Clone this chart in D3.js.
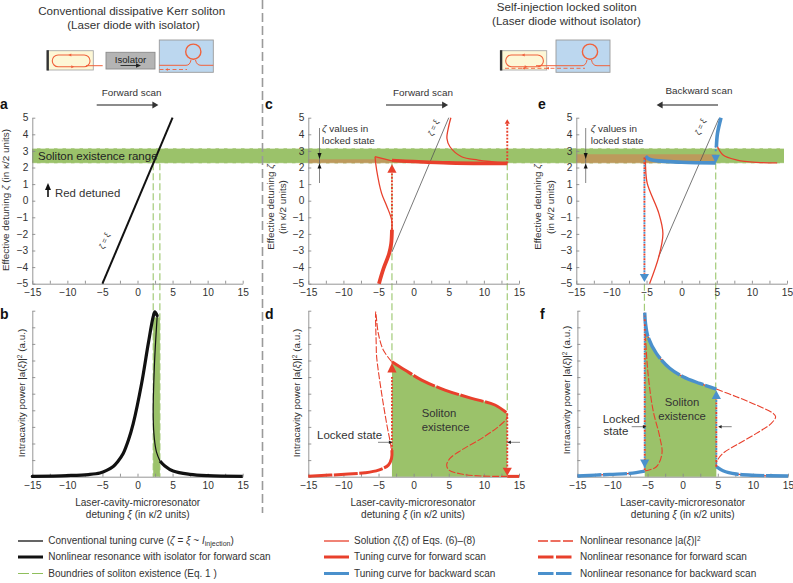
<!DOCTYPE html>
<html><head><meta charset="utf-8">
<script src="https://cdn.jsdelivr.net/npm/d3@7/dist/d3.min.js"></script>
<style>
html,body{margin:0;padding:0;background:#fff}
svg{display:block}
text{font-family:"Liberation Sans",Arial,sans-serif;fill:#333}
.i{font-style:italic}
</style></head><body>
<svg id="c" width="793" height="583"></svg>
<script>
// ---------- data ----------
const xTicks = d3.range(-15, 15.1, 2.5);
const zetaTicks = d3.range(-5, 5.1, 1);
const powerTicks = d3.range(0, 10.1, 1);
const solitonBand = [2.25, 3.16];

const aTuning = [[-5, -5], [5, 5]];
const aBounds = [2.24, 3.19];
const bRise = [[-15,0.02],[-10,0.07],[-7,0.13],[-5.36,0.22],[-4.4,0.38],[-3.46,0.62],[-2.8,0.92],[-2.04,1.4],[-1.3,2.2],[-0.61,3.2],[0.58,5.6],[1.53,8],[2.24,9.64],[2.48,9.93],[2.81,9.7]];
const bUnstable = [[2.81,9.7],[2.4,6.6],[2.24,3.6],[2.4,2.3],[2.7,1.5],[3.2,0.95]];
const bFall = [[3.2,0.95],[3.9,0.65],[5.08,0.34],[7.46,0.14],[10,0.06],[15,0.02]];

const cBounds = [-3.09, 13.33];
const cThickLow = [[-4.94,-5],[-4.3,-4.1],[-3.5,-3.2],[-3.2,-2.6],[-3.09,-1.75]];
const cThinLow = [[-3.09,-1.75],[-3.13,-1.16],[-3.85,-0.3],[-4.56,0.44],[-5.27,1.85],[-5.5,2.65]];
const cRidge = [[-5.5,2.65],[-3.09,2.4]];
const cThickTop = [[-3.09,2.42],[0,2.36],[5,2.28],[10,2.25],[13.33,2.25]];
const cThinUp = [[13.33,2.27],[9.2,2.45],[6.83,2.65],[5.17,3.25],[4.74,3.75],[5.0,4.5],[5.3,5]];
const cRef = [[-3.1,-3.1],[5,5]];
const cBrown = [[-15,2.49],[-5.5,2.49],[-5.5,2.65],[-3.09,2.4],[-3.09,2.25],[-15,2.25]];

const dLowThick = [[-15,0.03],[-9.3,0.16],[-6.9,0.24],[-5,0.4],[-3.6,0.7],[-3.15,1.1],[-3.09,1.6]];
const dBack = [[-3.13,6.93],[-4.32,7.63],[-5.03,8.63],[-5.41,9.94],[-5.33,8],[-5.27,7.23],[-4.56,5.02],[-3.85,3.21],[-3.23,1.81],[-3.09,1.0]];
const dUpper = [[-3.09,6.93],[-1.24,6.43],[1.14,5.82],[4.46,5.22],[8.26,4.72],[11.58,4.32],[13.33,3.82]];
const dS = [[13.33,3.82],[13.24,3.51],[12.05,3.01],[9.68,2.31],[6.83,1.61],[5.17,1.1],[4.7,0.7],[5.03,0.4],[6.83,0.16],[9.68,0.04],[13.33,0.02]];
const dEnd = [[13.33,0.02],[15,0.02]];

const eBounds = [-5.3, 4.85];
const eThinLow = [[-4.57,-5],[-3.25,-3.37],[-2.67,-1.97],[-3.25,-0.76],[-4.9,1.04],[-5.14,2.05],[-5.14,2.65]];
const eThickTop = [[-5.14,2.68],[-4.5,2.48],[0,2.32],[4.85,2.28]];
const eThickUp = [[5.6,5],[5.1,4.05],[4.95,3.25]];
const eThinUp = [[4.95,3.4],[5.9,2.75],[7.9,2.45],[10.7,2.31],[13.6,2.28]];
const eRef = [[-3.3,-3.4],[5.3,4.95]];
const eBrown = [[-15,2.8],[4.9,2.8],[4.9,2.25],[-15,2.25]];

const fUpper = [[-5.41,9.88],[-5.3,9.24],[-4.94,8.43],[-3.75,7.43],[-1.85,6.53],[0.05,6.02],[2.42,5.62],[4.79,5.28]];
const fOuter = [[4.79,5.28],[7.64,4.82],[10.49,4.32],[12.86,3.82],[13.24,3.61],[12.62,3.21],[10.49,2.61],[7.64,1.91],[5.74,1.41],[4.84,0.9],[4.79,0.6]];
const fRightLow = [[4.79,0.6],[5.74,0.36],[7.64,0.16],[10.49,0.08],[15,0.04]];
const fLeftLow = [[-15,0.04],[-10.4,0.14],[-7.55,0.2],[-5.41,0.34]];
const fInner = [[-5.41,0.34],[-3.75,0.6],[-2.95,1.41],[-3.28,2.41],[-4.23,4.02],[-4.94,6.22],[-5.32,8.63],[-5.41,9.88]];

const legendRows = [544, 560, 576.5];
const legendCol1 = ['Conventional tuning curve (<tspan class="i">ζ</tspan> = <tspan class="i">ξ</tspan> ~ <tspan class="i">I</tspan><tspan font-size="7" dy="2">injection</tspan><tspan dy="-2">)</tspan>','Nonlinear resonance with isolator for forward scan','Boundries of soliton existence (Eq. 1 )'];
const legendCol2 = ['Solution <tspan class="i">ζ</tspan>(<tspan class="i">ξ</tspan>) of Eqs. (6)–(8)','Tuning curve for forward scan','Tuning curve for backward scan'];
const legendCol3 = ['Nonlinear resonance |a(<tspan class="i">ξ</tspan>)|<tspan font-size="6.5" dy="-3">2</tspan>','Nonlinear resonance for forward scan','Nonlinear resonance for backward scan'];

// ---------- colours ----------
const RED='#e8402c', BLUE='#4a90cc', GREEN='#9bc26a', DGREEN='#a3cb78', BROWN='#bc9a5c', INK='#333', AX='#8a8a8a';

const svg = d3.select('#c');
const yZ = d3.scaleLinear().domain([-5,5]).range([283.7,117.7]);
const yP = d3.scaleLinear().domain([0,10]).range([476.7,310.7]);
const xA = d3.scaleLinear().domain([-15,15]).range([32.3,242.7]);
const xC = d3.scaleLinear().domain([-15,15]).range([308.3,519]);
const xE = d3.scaleLinear().domain([-15,15]).range([576.3,787]);
const xF = d3.scaleLinear().domain([-15,15]).range([577.4,788]);

const T = (x,y,s,o={}) => {
  const t = svg.append('text').attr('x',x).attr('y',y).attr('font-size',o.size||9.9)
    .attr('text-anchor',o.anchor||'start').html(s);
  if(o.rot!==undefined) t.attr('transform',`rotate(${o.rot} ${x} ${y})`);
  if(o.weight) t.attr('font-weight',o.weight);
  if(o.fill) t.style('fill',o.fill);
  return t;
};
const path = (d,color,w,o={}) => {
  const p = svg.append('path').attr('d',d).attr('fill',o.fill||'none').attr('stroke',color).attr('stroke-width',w);
  if(o.dash) p.attr('stroke-dasharray',o.dash);
  if(o.cap) p.attr('stroke-linecap',o.cap);
  return p;
};
const gen = (x,y) => d3.line().x(d=>x(d[0])).y(d=>y(d[1])).curve(d3.curveCatmullRom.alpha(0.5));
const lin = (x,y) => d3.line().x(d=>x(d[0])).y(d=>y(d[1]));
const tri = (cx,tip,up,hw,h,color) => svg.append('path').attr('fill',color)
   .attr('d',`M${cx},${tip}L${cx-hw},${up?tip+h:tip-h}L${cx+hw},${up?tip+h:tip-h}Z`);
const arrowH = (x1,x2,y,color,w,hl,hw) => {
  path(`M${x1},${y}L${x2},${y}`,color,w);
  const s=x2>x1?1:-1;
  svg.append('path').attr('fill',color==='#666'?'#333':'#222')
    .attr('d',`M${x2+s*hl*0.4},${y}L${x2-s*hl*0.6},${y-hw}L${x2-s*hl*0.6},${y+hw}Z`);
};

function axes(x,y,labels,yT){
  const xg = svg.append('g').attr('transform',`translate(0,${y.range()[0]})`)
    .call(d3.axisBottom(x).tickValues(xTicks).tickSizeInner(-3).tickSizeOuter(0).tickPadding(5)
      .tickFormat(v=> v%5===0 ? d3.format('d')(v) : ''));
  const yg = svg.append('g').attr('transform',`translate(${x.range()[0]},0)`)
    .call(d3.axisLeft(y).tickValues(yT).tickSizeInner(-3).tickSizeOuter(0).tickPadding(4)
      .tickFormat(labels? d3.format('d') : ''));
  [xg,yg].forEach(g=>{
    g.selectAll('path').attr('stroke',AX).attr('stroke-width',0.9);
    g.selectAll('line').attr('stroke',AX).attr('stroke-width',0.9);
    g.selectAll('text').attr('font-size',10.2).style('fill',INK).attr('font-family','"Liberation Sans",Arial,sans-serif');
  });
}

// ---------- backgrounds ----------
const vDash=(px,y1,y2)=>path(`M${px},${y1}V${y2}`,DGREEN,1.2,{dash:'7,3'});
aBounds.forEach(v=>{ vDash(xA(v),yZ(2.25),yP(0)); });

svg.append('rect').attr('x',32).attr('width',752).attr('y',yZ(solitonBand[1])).attr('height',yZ(solitonBand[0])-yZ(solitonBand[1])).attr('fill',GREEN);
svg.append('path').attr('fill',BROWN).attr('d',lin(xC,yZ)(cBrown)+'Z');
svg.append('path').attr('fill',BROWN).attr('d',lin(xE,yZ)(eBrown)+'Z');
solitonBand.forEach(v=>path(`M32,${yZ(v)}H784`,'#fff',0.7,{dash:'5,3.5'}));

// green fills in lower row
svg.append('rect').attr('x',xA(aBounds[0])).attr('width',xA(aBounds[1])-xA(aBounds[0])).attr('y',yP(9.6)).attr('height',yP(0)-yP(9.6)).attr('fill',GREEN);
const areaOf = (x,pts)=>d3.area().x(d=>x(d[0])).y0(yP(0)).y1(d=>yP(d[1])).curve(d3.curveCatmullRom.alpha(0.5))(pts);
svg.append('path').attr('fill',GREEN).attr('d',areaOf(xC,dUpper));
svg.append('path').attr('fill',GREEN).attr('d',areaOf(xF,fUpper));

// divider
path('M262.5,0V513','#9a9a9a',1.6,{dash:'9,4'});

// dashed boundaries
cBounds.forEach((v,i)=>{ vDash(xC(v),yZ(2.25),i?yP(3.8):yP(6.9)); });
vDash(xE(eBounds[0]),yZ(-5),yP(9.9));
vDash(xE(eBounds[1]),yZ(2.3),yP(5.3));

// axes
axes(xA,yZ,true,zetaTicks);  axes(xA,yP,false,powerTicks);
axes(xC,yZ,true,zetaTicks);  axes(xC,yP,false,powerTicks);
axes(xE,yZ,true,zetaTicks);  axes(xF,yP,false,powerTicks);

// ---------- panel a ----------
path(lin(xA,yZ)(aTuning),'#111',2);
// ---------- panel b ----------
path(gen(xA,yP)(bUnstable),'#111',1.2);
path(gen(xA,yP)(bRise),'#111',3.2,{cap:'round'});
path(gen(xA,yP)(bFall),'#111',3.2);

// ---------- panel c ----------
const DOT='1.9,1.5', DOT2='1.9,2.9';
path(lin(xC,yZ)(cRef),'#555',0.8);
path(gen(xC,yZ)(cThinLow),RED,1.3);
path(lin(xC,yZ)(cRidge),RED,1.3);
path(gen(xC,yZ)(cThinUp),RED,1.3);
path(gen(xC,yZ)(cThickLow),RED,3.8);
path(gen(xC,yZ)(cThickTop),RED,3.6);
path(`M${xC(cBounds[0])},${yZ(-1.75)}V${yZ(1.7)}`,RED,1.9,{dash:DOT});
tri(xC(cBounds[0]),yZ(2.2),true,4.6,8.5,RED);
path(`M${xC(cBounds[1])},${yZ(2.25)}V${yZ(4.7)}`,RED,1.9,{dash:DOT});
tri(xC(cBounds[1]),yZ(4.9),true,2.6,4.5,RED);

// ---------- panel d ----------
path(gen(xC,yP)(dBack),RED,1.1,{dash:'7,1.8'});
path(gen(xC,yP)(dS),RED,1.1,{dash:'7,1.8'});
path(gen(xC,yP)(dLowThick),RED,3,{dash:'24,1.5'});
path(gen(xC,yP)(dUpper),RED,3,{dash:'24,1.5'});
path(lin(xC,yP)(dEnd),RED,3);
path(`M${xC(cBounds[0])},${yP(1.6)}V${yP(6)}`,RED,1.9,{dash:DOT});
tri(xC(cBounds[0]),yP(6.85),true,4.6,9.5,RED);
path(`M${xC(cBounds[1])},${yP(3.8)}V${yP(0.5)}`,RED,1.9,{dash:DOT});
tri(xC(cBounds[1]),yP(0.05),false,4.6,8,RED);

// ---------- panel e ----------
path(lin(xE,yZ)(eRef),'#555',0.8);
path(gen(xE,yZ)(eThinLow),RED,1.3);
path(gen(xE,yZ)(eThinUp),RED,1.3);
path(gen(xE,yZ)(eThickTop),BLUE,3.6);
path(gen(xE,yZ)(eThickUp),BLUE,3.6);
path(`M${xE(eBounds[0])},${yZ(2.6)}V${yZ(-4.4)}`,RED,1.9,{dash:DOT2});
path(`M${xE(eBounds[0])},${yZ(2.6)}V${yZ(-4.4)}`,BLUE,1.9,{dash:DOT2}).attr('stroke-dashoffset',2.4);
tri(xE(eBounds[0]),yZ(-4.9),false,4.6,8,BLUE);
path(`M${xE(eBounds[1])},${yZ(3.3)}V${yZ(2.9)}`,BLUE,1.9,{dash:DOT});
tri(xE(eBounds[1]),yZ(2.25),false,4.2,8.5,BLUE);

// ---------- panel f ----------
path(gen(xF,yP)(fOuter),RED,1.1,{dash:'7,1.8'});
path(gen(xF,yP)(fInner),RED,1.1,{dash:'7,1.8'});
[fLeftLow,fUpper,fRightLow].forEach(p=>{
  path(gen(xF,yP)(p),RED,1.2);
  path(gen(xF,yP)(p),BLUE,3.4,{dash:'24,1.6'});
});
[fUpper[0][0],fUpper[fUpper.length-1][0]].forEach((v,i)=>{
  const a=i?yP(0.6):yP(0.4), b=i?yP(4.8):yP(9.7);
  path(`M${xF(v)},${a}V${b}`,RED,1.9,{dash:DOT2});
  path(`M${xF(v)},${a}V${b}`,BLUE,1.9,{dash:DOT2}).attr('stroke-dashoffset',2.4);
});
tri(xF(fUpper[0][0]),yP(0.52),false,4.6,8.5,BLUE);
tri(xF(fUpper[fUpper.length-1][0]),yP(5.2),true,4.6,8.5,BLUE);

// ---------- text ----------
T(131.7,15,'Conventional dissipative Kerr soliton',{anchor:'middle',size:11.6});
T(133.5,29,'(Laser diode with isolator)',{anchor:'middle',size:11.6});
T(566.7,11,'Self-injection locked soliton',{anchor:'middle',size:11.6});
T(566.5,25,'(Laser diode without isolator)',{anchor:'middle',size:11.6});

[['a',0,109],['c',265,109],['e',538,109],['b',0,319],['d',265,319],['f',540,319]]
  .forEach(d=>T(d[1],d[2],d[0],{size:14,weight:'bold',fill:'#111'}));

T(131.7,96,'Forward scan',{anchor:'middle',size:9.9});
arrowH(96.7,156,105,'#666',1.3,6,3.6);
T(423,96,'Forward scan',{anchor:'middle',size:9.9});
arrowH(386,445.7,105,'#666',1.3,6,3.6);
T(699,94,'Backward scan',{anchor:'middle',size:9.9});
arrowH(718,659,105,'#666',1.3,6,3.6);

T(38,160,'Soliton existence range',{size:11.5,fill:'#222'});
T(55,196.5,'Red detuned',{size:11.4});
path('M48,197V188','#111',1.6);
svg.append('path').attr('fill','#111').attr('d','M48,183L45,190L51,190Z');

const lockNote=(xl,xt)=>{
  T(xt,132,'<tspan class="i">ζ</tspan> values in',{size:9.9});
  T(xt,144,'locked state',{size:9.9});
  path(`M${xl},128V183`,'#666',0.8);
  svg.append('path').attr('fill','#111').attr('d',`M${xl},159L${xl-2},153L${xl+2},153Z`);
  svg.append('path').attr('fill','#111').attr('d',`M${xl},163.5L${xl-2},168.5L${xl+2},168.5Z`);
};
lockNote(319.5,322); lockNote(585.7,590.7);

const rotT=(x,y,s,size)=>T(x,y,s,{rot:-90,anchor:'middle',size:size||9.9});
const EFF='Effective detuning <tspan class="i">ζ</tspan>';
const UN='(in κ/2 units)';
rotT(9,200,EFF+' '+UN);
rotT(273.5,207,EFF); rotT(285.5,207,UN);
rotT(541,207,EFF); rotT(553.5,207,UN);
const POW='Intracavity power |a(<tspan class="i">ξ</tspan>)|<tspan font-size="6.5" dy="-3">2</tspan><tspan dy="3"> (a.u.)</tspan>';
rotT(25,393,POW); rotT(300,393,POW); rotT(570,390,POW);

[[137.7],[413],[682.7]].forEach(c=>{
  T(c[0],506,'Laser-cavity-microresonator',{anchor:'middle',size:10.1});
  T(c[0],518,'detuning <tspan class="i">ξ</tspan> (in κ/2 units)',{anchor:'middle',size:10.1});
});

const rotEq=(px,py)=>T(px,py,'<tspan class="i">ζ</tspan> = <tspan class="i">ξ</tspan>',{rot:-67,anchor:'middle',size:8});
rotEq(107,242); rotEq(436,129); rotEq(703,128);

T(421.7,416.7,'Soliton',{size:11.3}); T(421.7,430.7,'existence',{size:11.3});
T(682,405.7,'Soliton',{size:11.3,anchor:'middle'}); T(682,420,'existence',{size:11.3,anchor:'middle'});
T(317,439.3,'Locked state',{size:11.5});
T(602.7,423,'Locked',{size:11.5}); T(603.5,435,'state',{size:11.5});
arrowH(378,391,442.3,'#777',0.9,3.5,1.8); arrowH(520,508.8,442.3,'#777',0.9,3.5,1.8);
arrowH(631.7,645,426.7,'#777',0.9,3.5,1.8); arrowH(731.7,719.5,426.7,'#777',0.9,3.5,1.8);

// ---------- legend ----------
const swatch=(x1,x2,y,c,w,dash)=>path(`M${x1},${y}H${x2}`,c,w,dash?{dash}:{});
swatch(18,43,legendRows[0]-3,'#111',1.3);
swatch(18,43,legendRows[1]-3,'#111',3);
swatch(18,43,legendRows[2]-3,'#8fbf5c',1.1,'11,3');
legendCol1.forEach((s,i)=>T(48.3,legendRows[i],s,{size:10}));
swatch(324,349,legendRows[0]-3,RED,1.3);
swatch(324,349,legendRows[1]-3,RED,3);
swatch(324,349,legendRows[2]-3,BLUE,3);
legendCol2.forEach((s,i)=>T(354,legendRows[i],s,{size:10}));
swatch(538,573,legendRows[0]-3,RED,1.3,'10,2.5');
swatch(538,573,legendRows[1]-3,RED,3,'15.5,2.5');
swatch(538,573,legendRows[2]-3,BLUE,3,'15.5,2.5');
legendCol3.forEach((s,i)=>T(580,legendRows[i],s,{size:10}));

// ---------- schematics ----------
const SR='#f0623c';
const box=(x,y,w,h,f,s)=>svg.append('rect').attr('x',x).attr('y',y).attr('width',w).attr('height',h).attr('fill',f).attr('stroke',s).attr('stroke-width',0.9);
function laser(x0){
  box(x0,50.7,46,19.3,'#fdf7d6','#a8a8a8');
  svg.append('rect').attr('x',x0-0.8).attr('y',50.2).attr('width',2.4).attr('height',20.3).attr('fill','#333');
  svg.append('rect').attr('x',x0+5).attr('y',55).attr('width',37.7).attr('height',11.7).attr('rx',5.8).attr('fill','none').attr('stroke',SR).attr('stroke-width',1.1);
  svg.append('path').attr('fill',SR).attr('d',`M${x0+24},53.5l-3,1.5l3,1.5ZM${x0+24},65.2l3,1.5l-3,1.5Z`);
}
function resonator(x0,x1,cx){
  box(x0,40,x1-x0,32.3,'#bcd7ef','#9a9a9a');
  svg.append('circle').attr('cx',cx).attr('cy',51.7).attr('r',7.6).attr('fill','none').attr('stroke',SR).attr('stroke-width',1.4);
}
laser(47.3);
path('M86,65.7H102.7',SR,1);
box(106,52.3,49,16.7,'#b4b4b4','#8a8a8a');
T(130.5,63,'Isolator',{anchor:'middle',size:9.6,fill:'#222'});
arrowH(120.5,139,65.5,'#333',1,5,2.2);
resonator(159.3,213.3,193.3);
path('M159.3,65.3H186Q190,65.3 191,60M195.5,60Q196.5,65.3 201,65.3H213.3',SR,1);
path('M159.5,69.5H187',SR,0.9,{dash:'4,2.5'});
svg.append('path').attr('fill',SR).attr('d','M165,69.5l3,-1.3v2.6Z');

laser(500.7);
resonator(556,610,590);
path('M536,65.7H582Q586,65.7 587,60M591.5,60Q592.5,65.7 597,65.7H610',SR,1);
path('M505,68.3H585',SR,0.9,{dash:'4,2.5'});
svg.append('path').attr('fill',SR).attr('d','M546,68.3l3,-1.3v2.6ZM522,68.3l3,-1.3v2.6Z');
</script>
</body></html>
